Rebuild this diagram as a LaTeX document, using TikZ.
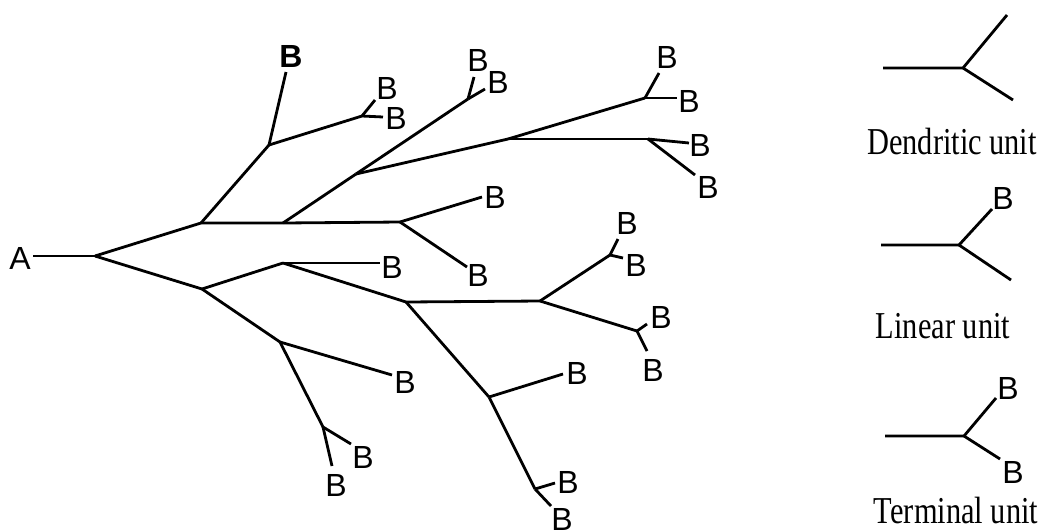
\documentclass[tikz,border=0pt]{standalone}
\usepackage{fontspec}
\usepackage{graphicx}
\newfontfamily\labelsans{Liberation Sans}
\newfontfamily\legendserif{Liberation Serif}
\begin{document}
\begin{tikzpicture}[x=1pt,y=-1pt,
  bond/.style={line width=2.8pt, line join=round},
  atom/.style={inner sep=0pt, font=\labelsans\fontsize{32}{38}\selectfont},
  boldatom/.style={atom, font=\labelsans\bfseries\fontsize{32}{38}\selectfont},
  caption/.style={inner sep=0pt, anchor=base, font=\legendserif\fontsize{38}{44}\selectfont}]
\useasboundingbox (0,0) rectangle (1046,531);

% ---------- branching points of the dendrimer ----------
\coordinate (j0)  at (95,256);
\coordinate (j1)  at (201,223);
\coordinate (j2)  at (269,145);
\coordinate (j2b) at (362,116);
\coordinate (j3)  at (283,223);
\coordinate (j4)  at (400,222);
\coordinate (j5)  at (356,174);
\coordinate (j6)  at (468,99);
\coordinate (j7)  at (508,139);
\coordinate (j8)  at (645,98);
\coordinate (j9)  at (648,139);
\coordinate (j10) at (202,289);
\coordinate (j11) at (283,263);
\coordinate (j12) at (406,302);
\coordinate (j13) at (489,397);
\coordinate (j14) at (280,342);
\coordinate (j15) at (323,427);
\coordinate (j16) at (535,489);
\coordinate (j17) at (540,301);
\coordinate (j18) at (610,255);
\coordinate (j19) at (637,331);

% ---------- free ends of the terminal bonds ----------
\coordinate (a0)  at (33,256);
\coordinate (t1)  at (286,72);
\coordinate (t2)  at (375,100);
\coordinate (t3)  at (383,117);
\coordinate (t4)  at (474,77);
\coordinate (t5)  at (485,89);
\coordinate (t6)  at (659,73);
\coordinate (t7)  at (677,98);
\coordinate (t8)  at (689,143);
\coordinate (t9)  at (695,175);
\coordinate (t10) at (482,197);
\coordinate (t11) at (467,267);
\coordinate (t12) at (380,263);
\coordinate (t13) at (392,375);
\coordinate (t14) at (351,444);
\coordinate (t15) at (332,466);
\coordinate (t16) at (563,374);
\coordinate (t17) at (555,483);
\coordinate (t18) at (551,506);
\coordinate (t19) at (618,239);
\coordinate (t20) at (623,258);
\coordinate (t21) at (647,324);
\coordinate (t22) at (647,351);

% ---------- end groups ----------
\node[atom] (A) at (20,258) {A};
\node[boldatom] (b1) at (291,56) {B};
\node[atom] (b2)  at (387,88)  {B};
\node[atom] (b3)  at (396,118) {B};
\node[atom] (b4)  at (478,60)  {B};
\node[atom] (b5)  at (498,82)  {B};
\node[atom] (b6)  at (667,57)  {B};
\node[atom] (b7)  at (689,101) {B};
\node[atom] (b8)  at (700,145) {B};
\node[atom] (b9)  at (708,187) {B};
\node[atom] (b10) at (495,197) {B};
\node[atom] (b11) at (478,275) {B};
\node[atom] (b12) at (392,267) {B};
\node[atom] (b13) at (405,382) {B};
\node[atom] (b14) at (363,457) {B};
\node[atom] (b15) at (336,485) {B};
\node[atom] (b16) at (577,373) {B};
\node[atom] (b17) at (568,482) {B};
\node[atom] (b18) at (562,519) {B};
\node[atom] (b19) at (627,223) {B};
\node[atom] (b20) at (636,265) {B};
\node[atom] (b21) at (661,317) {B};
\node[atom] (b22) at (653,370) {B};

% ---------- bonds ----------
\draw[bond] (a0) -- (j0);
\draw[bond] (j0) -- (j1);
\draw[bond] (j0) -- (j10);
% upper half
\draw[bond] (j1) -- (j2);
\draw[bond] (j1) -- (j3) -- (j4);
\draw[bond] (j2) -- (t1);
\draw[bond] (j2) -- (j2b);
\draw[bond] (j2b) -- (t2);
\draw[bond] (j2b) -- (t3);
\draw[bond] (j3) -- (j5);
\draw[bond] (j5) -- (j6);
\draw[bond] (j6) -- (t4);
\draw[bond] (j6) -- (t5);
\draw[bond] (j5) -- (j7);
\draw[bond] (j7) -- (j8);
\draw[bond] (j8) -- (t6);
\draw[bond] (j8) -- (t7);
\draw[bond] (j7) -- (j9);
\draw[bond] (j9) -- (t8);
\draw[bond] (j9) -- (t9);
\draw[bond] (j4) -- (t10);
\draw[bond] (j4) -- (t11);
% lower half
\draw[bond] (j10) -- (j11);
\draw[bond] (j11) -- (t12);
\draw[bond] (j11) -- (j12);
\draw[bond] (j12) -- (j17);
\draw[bond] (j17) -- (j18);
\draw[bond] (j18) -- (t19);
\draw[bond] (j18) -- (t20);
\draw[bond] (j17) -- (j19);
\draw[bond] (j19) -- (t21);
\draw[bond] (j19) -- (t22);
\draw[bond] (j12) -- (j13);
\draw[bond] (j13) -- (t16);
\draw[bond] (j13) -- (j16);
\draw[bond] (j16) -- (t17);
\draw[bond] (j16) -- (t18);
\draw[bond] (j10) -- (j14);
\draw[bond] (j14) -- (t13);
\draw[bond] (j14) -- (j15);
\draw[bond] (j15) -- (t14);
\draw[bond] (j15) -- (t15);

% ---------- legend: the three kinds of units ----------
% dendritic unit
\coordinate (dL) at (883,68);
\coordinate (dJ) at (963,68);
\coordinate (dU) at (1007,15);
\coordinate (dD) at (1013,100);
\draw[bond] (dL) -- (dJ) -- (dU);
\draw[bond] (dJ) -- (dD);
\node[caption] (dcap) at (952,154) {\scalebox{0.8}[1]{Dendritic unit}};

% linear unit
\coordinate (lL) at (881,245);
\coordinate (lJ) at (959,245);
\coordinate (lU) at (992,209);
\coordinate (lD) at (1011,280);
\node[atom] (lB) at (1003,198) {B};
\draw[bond] (lL) -- (lJ) -- (lU);
\draw[bond] (lJ) -- (lD);
\node[caption] (lcap) at (943,338) {\scalebox{0.8}[1]{Linear unit}};

% terminal unit
\coordinate (tL) at (885,436);
\coordinate (tJ) at (964,436);
\coordinate (tU) at (996,398);
\coordinate (tD) at (1000,459);
\node[atom] (tB1) at (1008,388) {B};
\node[atom] (tB2) at (1013,472) {B};
\draw[bond] (tL) -- (tJ) -- (tU);
\draw[bond] (tJ) -- (tD);
\node[caption] (tcap) at (956,523) {\scalebox{0.8}[1]{Terminal unit}};
\end{tikzpicture}
\end{document}
